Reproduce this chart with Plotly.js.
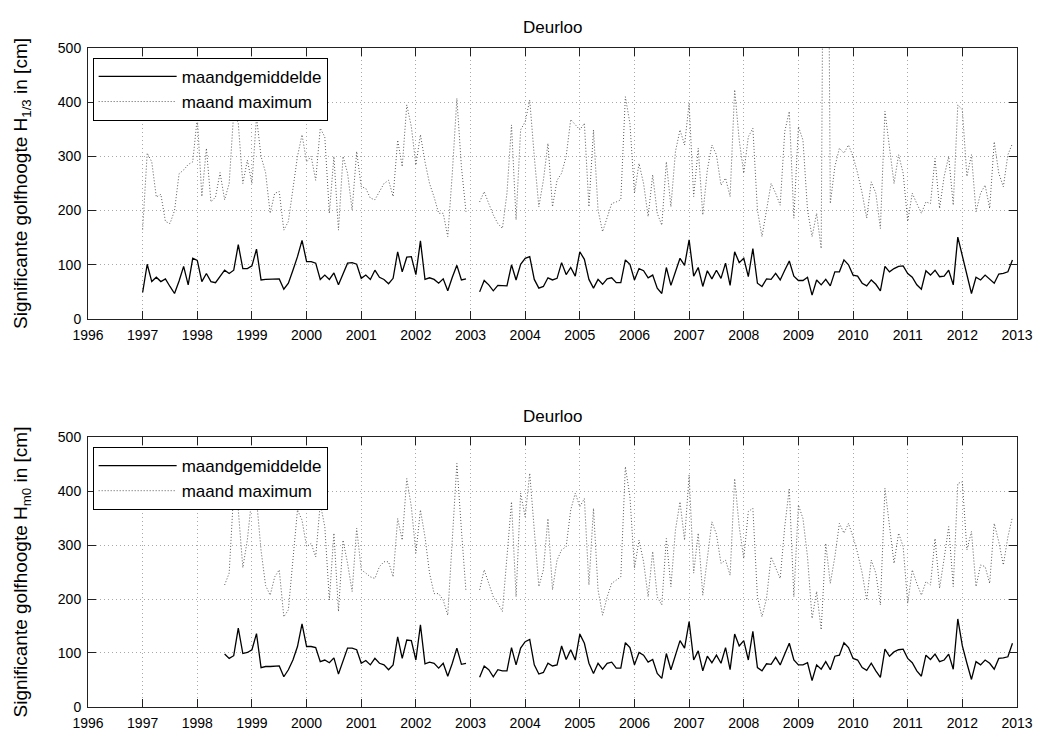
<!DOCTYPE html>
<html><head><meta charset="utf-8">
<script src="https://cdn.plot.ly/plotly-3.0.1.min.js"></script>
<style>body{margin:0;background:#fff}#chart{width:1040px;height:733px}</style>
</head><body><div id="chart"></div>
<script>
// Monthly series, first top value = Jan 1997, first bottom value = Jul 1998
const tickYears = [1996,1997,1998,1999,2000,2001,2002,2003,2004,2005,2006,2007,2008,2009,2010,2011,2012,2013];
const seriesNames = ['maandgemiddelde', 'maand maximum'];
const titleText = 'Deurloo';
const yTitleTop = 'Significante golfhoogte H<sub>1/3</sub> in [cm]';
const yTitleBottom = 'Significante golfhoogte H<sub>m0</sub> in [cm]';

const topStart = [1997, 1];
const topMean = [
 49,101,69,77,69,74,60,47,70,97,63,112,
 108,69,84,69,67,78,90,84,90,137,93,93,
 98,129,72,73,73,74,74,55,66,90,115,145,
 106,106,103,73,81,73,85,63,84,103,104,101,
 75,81,73,90,77,73,65,75,124,87,114,115,
 82,144,73,76,73,66,74,52,77,99,72,74,
 null,null,50,71,63,52,62,61,61,100,72,101,
 112,115,73,57,60,76,72,75,104,82,95,79,
 124,110,73,57,73,64,74,76,67,67,109,101,
 72,93,89,76,81,57,47,95,62,87,112,99,
 146,79,95,60,89,74,90,75,103,62,124,104,
 112,78,130,66,60,74,73,84,72,90,107,79,
 71,71,77,44,72,63,73,61,87,87,109,100,
 81,79,66,61,72,64,52,97,87,93,97,98,
 84,77,63,55,89,81,90,78,79,90,63,151,
 115,84,47,77,72,81,73,66,83,84,87,109
];
const topMax = [
 165,306,290,225,230,180,176,200,268,275,285,290,
 372,226,315,216,225,270,220,250,382,361,250,293,
 250,373,300,270,195,232,235,164,180,238,300,340,
 290,300,256,352,336,195,300,164,300,269,201,309,
 244,241,223,220,235,250,256,226,330,281,395,355,
 284,340,290,250,225,195,195,152,269,407,281,198,
 null,null,216,235,213,192,176,167,232,358,183,349,
 364,404,300,207,256,324,207,256,269,300,368,358,
 349,361,207,349,201,161,189,213,216,220,410,361,
 232,287,250,189,266,195,173,290,207,309,349,321,
 398,226,315,192,275,321,303,247,260,226,423,330,
 269,336,352,201,152,201,250,232,210,346,383,186,
 355,330,201,152,195,130,1500,213,281,315,306,321,
 300,269,232,186,253,232,167,383,312,250,303,269,
 180,232,213,195,216,213,296,204,263,300,210,395,
 386,263,303,198,232,247,204,327,269,244,303,324
];

const bottomStart = [1998, 7];
const bottomMean = [
 98,90,95,146,99,101,
 106,136,73,75,75,76,76,56,69,87,112,154,
 112,112,110,84,87,82,91,61,87,109,109,106,
 81,86,78,90,81,78,69,78,130,90,124,123,
 87,152,80,83,81,72,81,57,81,109,79,81,
 null,null,55,76,69,56,69,67,67,110,78,109,
 121,125,78,61,64,81,76,78,113,88,106,87,
 135,118,81,62,81,70,81,83,72,72,119,110,
 78,101,96,83,88,62,53,99,69,96,123,109,
 158,87,104,67,94,82,96,81,110,69,135,113,
 123,87,140,73,67,80,79,92,78,98,118,87,
 78,78,82,49,78,70,84,69,94,96,119,110,
 90,87,73,68,81,67,55,107,94,102,106,107,
 90,82,67,57,96,88,98,84,87,98,70,163,
 113,81,51,84,78,87,81,70,90,91,93,118
];
const bottomMax = [
 226,248,400,365,258,310,
 390,385,290,225,207,241,254,167,180,266,365,346,
 297,303,278,377,334,198,322,177,309,266,214,331,
 254,248,241,238,260,269,269,241,349,309,423,371,
 285,365,315,248,210,210,198,170,322,451,328,214,
 null,null,217,254,229,204,192,177,278,380,204,396,
 352,433,328,223,254,349,217,272,291,297,365,396,
 371,386,226,368,217,170,204,229,235,241,445,390,
 257,309,269,204,288,204,189,312,223,328,380,309,
 430,248,322,207,275,343,320,266,272,244,423,334,
 275,362,368,204,167,201,278,257,238,334,405,204,
 374,349,278,164,214,143,303,229,278,340,322,340,
 315,285,248,198,272,248,189,405,334,266,322,297,
 192,254,229,207,232,226,312,220,275,334,223,414,
 417,291,325,223,263,260,229,340,306,263,315,352
];

// decimal-year position of each month in a series
function monthPositions(start, n) {
  const out = [];
  for (let i = 0; i < n; i++) out.push(start[0] + (start[1] - 1 + i) / 12);
  return out;
}

const FONT = 'Liberation Sans, Arial, Helvetica, sans-serif';
const meanLine = {color: '#000000', width: 1.3};
const maxLine = {color: '#585858', width: 1, dash: '1px,2px'};

const traces = [
  {x: monthPositions(topStart, topMean.length), y: topMean, name: seriesNames[0], type: 'scatter', mode: 'lines',
   line: meanLine, xaxis: 'x', yaxis: 'y', legend: 'legend', connectgaps: false},
  {x: monthPositions(topStart, topMax.length), y: topMax, name: seriesNames[1], type: 'scatter', mode: 'lines',
   line: maxLine, xaxis: 'x', yaxis: 'y', legend: 'legend', connectgaps: false},
  {x: monthPositions(bottomStart, bottomMean.length), y: bottomMean, name: seriesNames[0], type: 'scatter', mode: 'lines',
   line: meanLine, xaxis: 'x2', yaxis: 'y2', legend: 'legend2', connectgaps: false},
  {x: monthPositions(bottomStart, bottomMax.length), y: bottomMax, name: seriesNames[1], type: 'scatter', mode: 'lines',
   line: maxLine, xaxis: 'x2', yaxis: 'y2', legend: 'legend2', connectgaps: false}
];

const GRID = {showgrid: true, gridcolor: '#a8a8a8', griddash: '1px,3px', gridwidth: 1};
function xAxis(anchor) {
  return Object.assign({anchor: anchor, domain: [0, 1], range: [1996, 2013], tickmode: 'array', tickvals: tickYears,
    ticktext: tickYears.map(String), ticks: 'inside', ticklen: 8, tickcolor: '#222', mirror: 'allticks',
    showline: true, linecolor: '#222', linewidth: 1, zeroline: false, ticklabelstandoff: 3,
    tickfont: {family: FONT, size: 14, color: '#000'}, fixedrange: true}, GRID);
}
function yAxis(anchor, domain, title) {
  return Object.assign({anchor: anchor, domain: domain, range: [0, 500], dtick: 100, tick0: 0,
    ticks: 'inside', ticklen: 8, tickcolor: '#222', mirror: 'allticks', showline: true, linecolor: '#222',
    linewidth: 1, zeroline: false, ticklabelstandoff: 3,
    tickfont: {family: FONT, size: 14, color: '#000'}, fixedrange: true,
    title: {text: title, font: {family: FONT, size: 19, color: '#000'}, standoff: 25}}, GRID);
}
function legendBox(y) {
  return {x: 0.005, y: y, xanchor: 'left', yanchor: 'top', bgcolor: '#ffffff', bordercolor: '#000',
    borderwidth: 1, font: {family: FONT, size: 17, color: '#000'}, tracegroupgap: 0, itemwidth: 78};
}

const layout = {
  width: 1040, height: 733,
  margin: {l: 88, r: 23, t: 48, b: 26},
  paper_bgcolor: '#fff', plot_bgcolor: '#fff',
  showlegend: true,
  xaxis: xAxis('y'),
  yaxis: yAxis('x', [0.5888, 1], yTitleTop),
  xaxis2: xAxis('y2'),
  yaxis2: yAxis('x2', [0, 0.4097], yTitleBottom),
  legend: legendBox(0.985),
  legend2: legendBox(0.3945),
  annotations: [
    {text: titleText, xref: 'x domain', yref: 'y domain', x: 0.5, y: 1, xanchor: 'center', yanchor: 'bottom',
     yshift: 9, showarrow: false, font: {family: FONT, size: 17, color: '#000'}},
    {text: titleText, xref: 'x2 domain', yref: 'y2 domain', x: 0.5, y: 1, xanchor: 'center', yanchor: 'bottom',
     yshift: 9, showarrow: false, font: {family: FONT, size: 17, color: '#000'}}
  ]
};

Plotly.newPlot('chart', traces, layout, {displayModeBar: false, staticPlot: true});
</script>
</body></html>
